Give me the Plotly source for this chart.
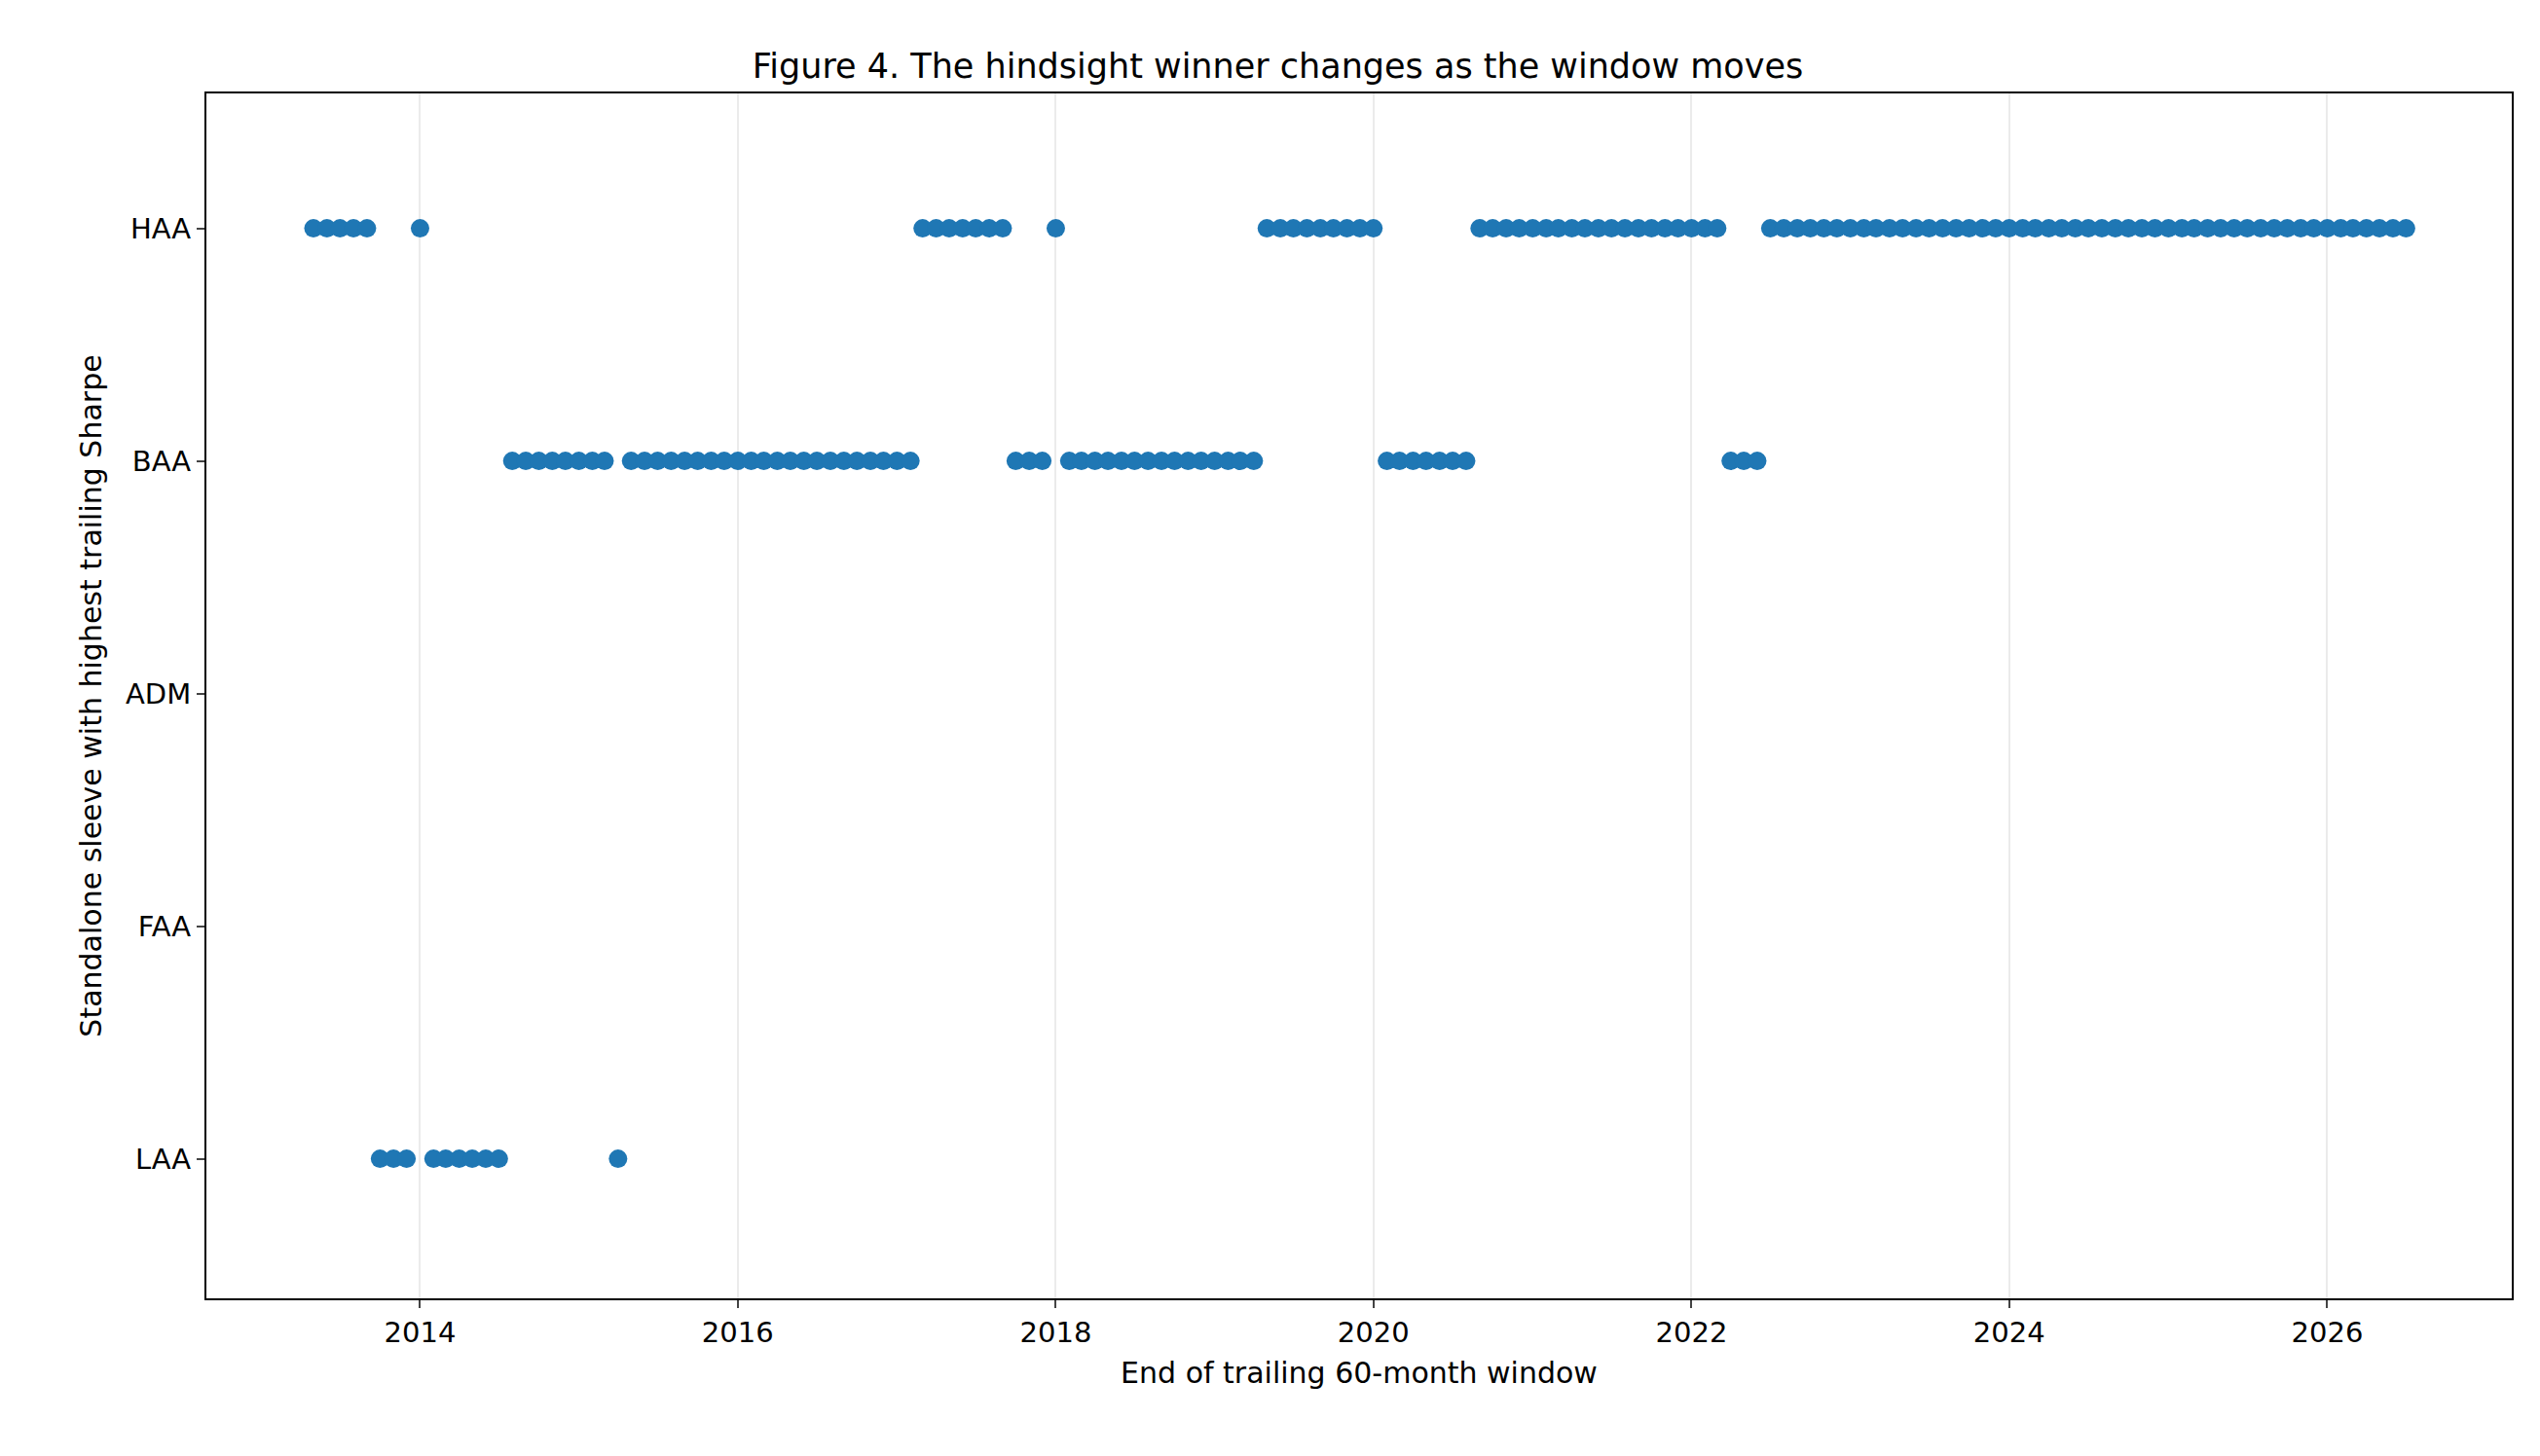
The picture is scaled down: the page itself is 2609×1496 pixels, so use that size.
import plotly.graph_objects as go
import pandas as pd

# sleeve order bottom -> top
sleeves = ["LAA", "FAA", "ADM", "BAA", "HAA"]

# runs of consecutive month-ends where a sleeve was the hindsight winner
run_sleeve = ["HAA", "LAA", "HAA", "LAA", "BAA", "LAA", "BAA", "HAA", "BAA", "HAA",
              "BAA", "HAA", "BAA", "HAA", "BAA", "HAA"]
run_start = ["2013-05", "2013-10", "2014-01", "2014-02", "2014-08", "2015-04", "2015-05",
             "2017-03", "2017-10", "2018-01", "2018-02", "2019-05", "2020-02", "2020-09",
             "2022-04", "2022-07"]
run_end = ["2013-09", "2013-12", "2014-01", "2014-07", "2015-03", "2015-04", "2017-02",
           "2017-09", "2017-12", "2018-01", "2019-04", "2020-01", "2020-08", "2022-03",
           "2022-06", "2026-07"]

dates = []
winners = []
for s, a, b in zip(run_sleeve, run_start, run_end):
    for d in pd.period_range(a, b, freq="M"):
        dates.append(d.to_timestamp())
        winners.append(s)

fig = go.Figure(go.Scatter(x=dates, y=[sleeves.index(w) for w in winners], mode="markers",
                           marker=dict(color="#1f77b4", size=19)))

ax = dict(showline=True, linecolor="black", linewidth=2, mirror=True, ticks="outside",
          ticklen=8, tickwidth=2, tickfont=dict(size=29, color="black"))
fig.update_layout(
    width=2609, height=1496, plot_bgcolor="white", paper_bgcolor="white",
    font=dict(family="DejaVu Sans", color="black"),
    margin=dict(l=204, r=37, t=88, b=170),
    title=dict(text="Figure 4. The hindsight winner changes as the window moves",
               x=0.5, xanchor="center", y=0.968, font=dict(size=35)),
    showlegend=False,
)
fig.update_xaxes(ax, range=["2012-08-28", "2027-03-01"], tickformat="%Y", dtick="M24",
                 tick0="2014-01-01", showgrid=True, gridcolor="#ebebeb", gridwidth=2,
                 zeroline=False,
                 title=dict(text="End of trailing 60-month window", font=dict(size=30)))
fig.update_yaxes(ax, range=[-0.6, 4.58], tickvals=list(range(5)), ticktext=sleeves,
                 showgrid=False, zeroline=False,
                 title=dict(text="Standalone sleeve with highest trailing Sharpe", font=dict(size=30)))

fig.write_html("out.html")
